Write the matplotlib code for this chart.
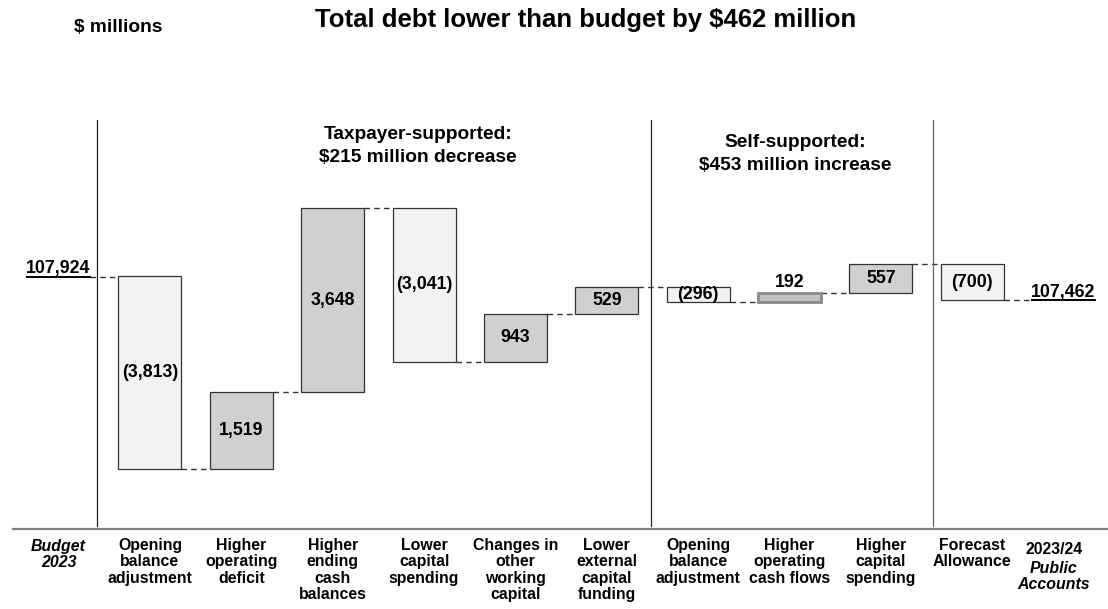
import matplotlib
matplotlib.use("Agg")
import matplotlib.pyplot as plt
from matplotlib.patches import Rectangle

plt.rcParams["font.family"] = ["Liberation Sans", "DejaVu Sans"]

# 数据（单位：百万加元）
categories = ["Budget\n2023",
              "Opening\nbalance\nadjustment",
              "Higher\noperating\ndeficit",
              "Higher\nending\ncash\nbalances",
              "Lower\ncapital\nspending",
              "Changes in\nother\nworking\ncapital",
              "Lower\nexternal\ncapital\nfunding",
              "Opening\nbalance\nadjustment",
              "Higher\noperating\ncash flows",
              "Higher\ncapital\nspending",
              "Forecast\nAllowance",
              "2023/24\nPublic\nAccounts"]
start_value = 107924
changes = [-3813, 1519, 3648, -3041, 943, 529, -296, 192, 557, -700]
end_value = 107462

title = "Total debt lower than budget by $462 million"
group_notes = ["Taxpayer-supported:\n$215 million decrease",
               "Self-supported:\n$453 million increase"]


def fmt(v):
    s = f"{abs(v):,}"
    return f"({s})" if v < 0 else s


W, H = 1108, 609
fig = plt.figure(figsize=(W / 100, H / 100), dpi=100)
ax_top, ax_bot = 120, 529
ax = fig.add_axes([0, (H - ax_bot) / H, 1, (ax_bot - ax_top) / H])

# 像素 -> 数据坐标的换算
x0_px, step_px = 58.6, 91.37
px_per_unit = 0.05049
lvl_px = 276.5
ymax = start_value + (lvl_px - ax_top) / px_per_unit
ymin = start_value - (ax_bot - lvl_px) / px_per_unit
ax.set_xlim(-x0_px / step_px, (W - x0_px) / step_px)
ax.set_ylim(ymin, ymax)
ax.axis("off")


def px2x(px):
    return (px - x0_px) / step_px


def px2ax(py):
    # 像素纵坐标 -> 轴坐标（y 方向）
    return (ax_bot - py) / (ax_bot - ax_top)


bw = 0.69
dash = dict(color="#333333", lw=1.0, linestyle=(0, (4, 3)))
highlight = 7  # 经营现金流那一项单独着色
val_fs = 12.8

level = start_value
for i, v in enumerate(changes):
    x = i + 1
    lo, hi = sorted([level, level + v])
    if i == highlight:
        fc, ec, lw = "#c2c2c2", "#8a8a8a", 2.0
    elif v < 0:
        fc, ec, lw = "#f2f2f2", "#333333", 0.9
    else:
        fc, ec, lw = "#d0d0d0", "#333333", 0.9
    ax.add_patch(Rectangle((x - bw / 2, lo), bw, hi - lo, facecolor=fc,
                           edgecolor=ec, lw=lw, zorder=3))
    if i == highlight:
        ax.text(x, hi + 25, fmt(v), ha="center", va="bottom",
                fontsize=val_fs, fontweight="bold", zorder=4)
    else:
        ax.text(x, (lo + hi) / 2, fmt(v), ha="center", va="center",
                fontsize=val_fs, fontweight="bold", zorder=4)
    # 连接线
    if i == 0:
        ax.plot([px2x(90), x - bw / 2], [level, level], **dash)
    else:
        ax.plot([x - 1 + bw / 2, x - bw / 2], [level, level], **dash)
    level += v

ax.plot([len(changes) + bw / 2, px2x(1032)], [end_value, end_value], **dash)

# 起止数值（带下划线）
ax.text(px2x(90), start_value + 60, f"{start_value:,}", ha="right",
        va="baseline", fontsize=val_fs, fontweight="bold")
ax.plot([px2x(27), px2x(90)], [start_value, start_value], color="black", lw=1.4)
ax.text(px2x(1063), end_value + 60, f"{end_value:,}", ha="center",
        va="baseline", fontsize=val_fs, fontweight="bold")
ax.plot([px2x(1032), px2x(1095)], [end_value, end_value], color="black", lw=1.4)

# 分组竖线与底线
trans = ax.get_xaxis_transform()
for px, c in [(97, "#222222"), (651, "#222222"), (932.7, "#666666")]:
    ax.plot([px2x(px)] * 2, [0.008, 1], color=c, lw=0.9, transform=trans,
            clip_on=False)
ax.plot([px2x(13), px2x(W)], [0, 0], color="#808080", lw=1.6,
        transform=trans, clip_on=False)

# 分组说明
ax.text(px2x(418), px2ax(126), group_notes[0], transform=trans,
        ha="center", va="top", fontsize=13.8, fontweight="bold",
        linespacing=1.5)
ax.text(px2x(795), px2ax(134), group_notes[1], transform=trans,
        ha="center", va="top", fontsize=13.8, fontweight="bold",
        linespacing=1.5)

# 横轴类别标签
lab_fs = 11.4
for i, lab in enumerate(categories):
    if i == 0:
        ax.text(i, px2ax(539), lab, ha="center", va="top", fontsize=lab_fs,
                fontweight="bold", style="italic", transform=trans,
                linespacing=1.12)
    elif i == len(categories) - 1:
        first, rest = lab.split("\n", 1)
        xx = px2x(1054)
        ax.text(xx, px2ax(542), first, ha="center", va="top",
                fontsize=lab_fs, fontweight="bold", transform=trans)
        ax.text(xx, px2ax(561), rest, ha="center", va="top",
                fontsize=lab_fs, fontweight="bold", style="italic",
                transform=trans, linespacing=1.12)
    else:
        ax.text(i, px2ax(538), lab, ha="center", va="top", fontsize=lab_fs,
                fontweight="bold", transform=trans, linespacing=1.12)

# 标题
fig.text(118 / W, 1 - 28 / H, "$ millions", ha="center", va="center",
         fontsize=13.8, fontweight="bold")
fig.text(586 / W, 1 - 20 / H, title, ha="center", va="center",
         fontsize=18.5, fontweight="bold")

fig.savefig("out.png", dpi=100)
